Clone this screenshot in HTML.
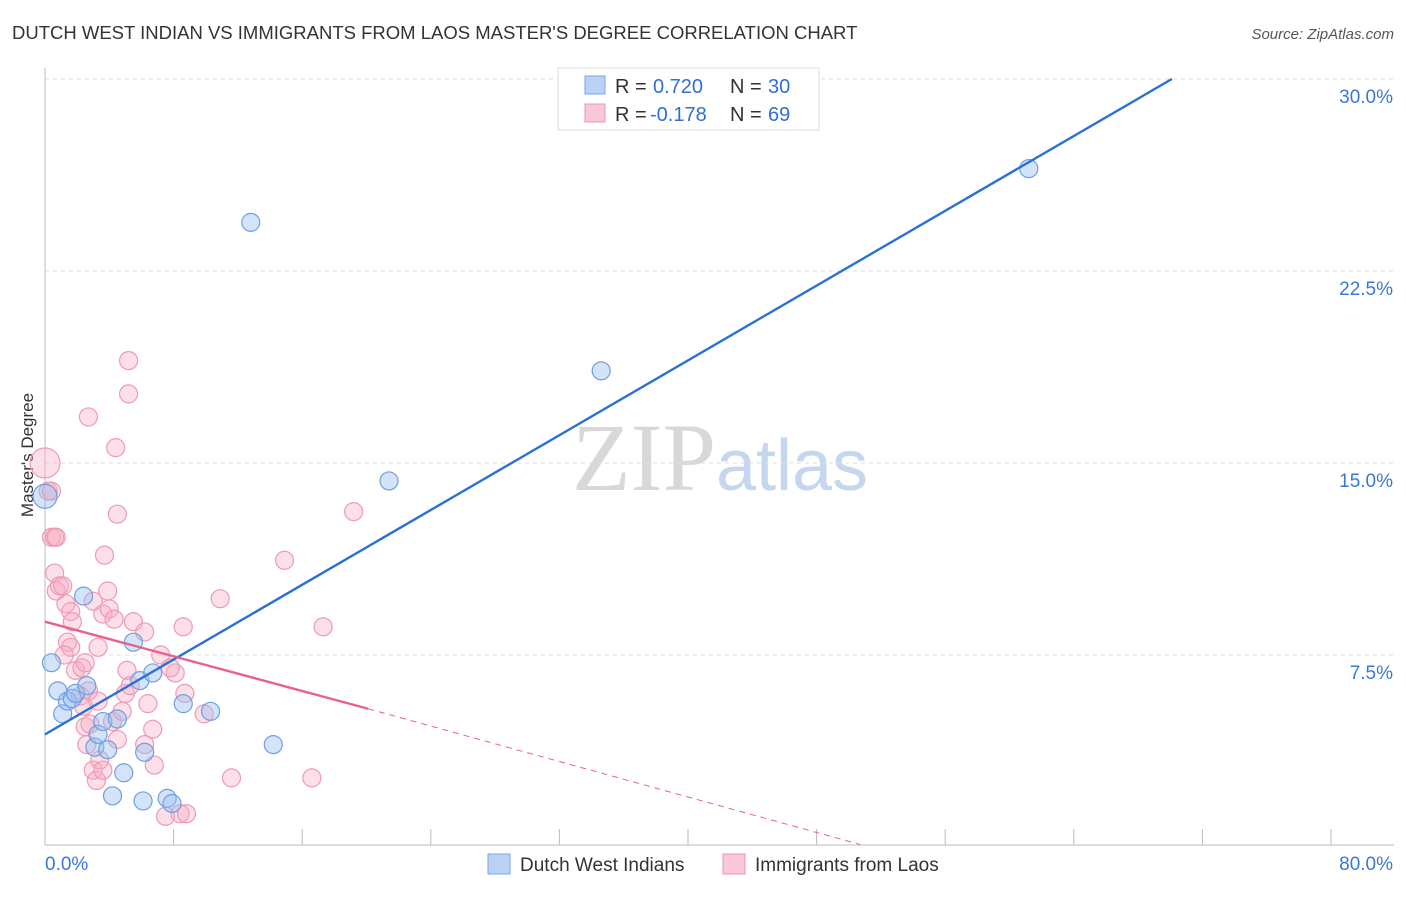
<!DOCTYPE html>
<html><head><meta charset="utf-8"><style>
body{margin:0;background:#fff;font-family:"Liberation Sans",sans-serif;}
svg text{font-family:"Liberation Sans",sans-serif;}
</style></head><body>
<svg id="chart" width="1406" height="892" xmlns="http://www.w3.org/2000/svg">
<text x="12" y="39" font-size="18.5" fill="#333">DUTCH WEST INDIAN VS IMMIGRANTS FROM LAOS MASTER'S DEGREE CORRELATION CHART</text>
<text x="1394" y="39" font-size="15" fill="#555" text-anchor="end" font-style="italic">Source: ZipAtlas.com</text>
<text transform="translate(33,455) rotate(-90)" font-size="17" fill="#333" text-anchor="middle">Master's Degree</text>
<text x="720" y="490" font-size="96" text-anchor="middle"><tspan fill="#d8d8d8" font-family="Liberation Serif">ZIP</tspan><tspan fill="#c5d7ef" font-size="72">atlas</tspan></text>
<g id="grid"></g><g id="axes"></g><g id="pink"></g><g id="blue"></g><g id="lines"></g>
<g>
<rect x="558" y="68" width="261" height="62" fill="#fff" stroke="#ddd"/>
<rect x="585" y="76" width="20" height="18" fill="#b9d2f5" stroke="#7aa6e0"/>
<rect x="585" y="104" width="20" height="18" fill="#f9c8d6" stroke="#ec93ad"/>
<text x="615" y="93" font-size="20" fill="#333">R =</text>
<text x="653" y="93" font-size="20" fill="#2f6fd6">0.720</text>
<text x="730" y="93" font-size="20" fill="#333">N =</text>
<text x="768" y="93" font-size="20" fill="#2f6fd6">30</text>
<text x="615" y="121" font-size="20" fill="#333">R =</text>
<text x="650" y="121" font-size="20" fill="#2f6fd6">-0.178</text>
<text x="730" y="121" font-size="20" fill="#333">N =</text>
<text x="768" y="121" font-size="20" fill="#2f6fd6">69</text>
</g>
<g>
<rect x="488" y="854" width="22" height="20" fill="#b9d2f5" stroke="#7aa6e0"/>
<text x="520" y="871" font-size="19" fill="#333">Dutch West Indians</text>
<rect x="723" y="854" width="22" height="20" fill="#f9c8d6" stroke="#ec93ad"/>
<text x="755" y="871" font-size="19" fill="#333">Immigrants from Laos</text>
</g>
</svg>
<script>
const NS="http://www.w3.org/2000/svg";
const xTicks=[0,8,16,24,32,40,48,56,64,72,80];
const yTicks=[7.5,15,22.5,30];
const yTickLabels=["7.5%","15.0%","22.5%","30.0%"];
const blueX=[12.8,61.2,34.6,21.4,0,0.4,0.8,1.1,1.4,1.7,1.9,2.4,2.6,3.1,3.3,3.6,3.9,4.5,4.9,4.2,5.5,5.9,6.2,6.7,6.1,7.6,7.9,8.6,10.3,14.2];
const blueY=[24.4,26.5,18.6,14.3,13.7,7.2,6.1,5.2,5.7,5.8,6.0,9.8,6.3,3.9,4.4,4.9,3.8,5.0,2.9,2.0,8.0,6.5,3.7,6.8,1.8,1.9,1.7,5.6,5.3,4.0];
const blueR=[9,9,9,9,12,9,9,9,9,9,9,9,9,9,9,9,9,9,9,9,9,9,9,9,9,9,9,9,9,9];
const pinkX=[0,0.2,0.4,0.6,0.7,0.9,1.1,1.3,1.4,1.6,1.7,1.6,1.2,1.9,2.2,2.3,2.5,2.7,2.4,2.5,2.8,2.6,3.0,3.2,3.4,3.6,3.3,3.3,3.6,3.9,4.0,4.3,4.5,4.4,2.7,5.2,5.2,3.7,5.0,5.1,5.3,5.5,6.2,6.4,6.7,6.2,6.8,7.2,7.5,8.1,8.4,8.7,8.8,8.6,9.9,10.9,11.6,14.9,16.6,17.3,19.2,0.6,4.2,4.8,4.5,7.8,3.0,0.4,0.7];
const pinkY=[15.0,13.9,12.1,10.7,10.0,10.2,10.2,9.5,8.0,9.2,8.8,7.8,7.5,6.9,5.9,7.0,7.2,6.1,5.5,4.7,4.8,4.0,3.0,2.6,3.4,3.0,7.8,5.7,9.1,10.0,9.3,8.9,13.0,15.6,16.8,19.0,17.7,11.4,6.0,6.9,6.3,8.8,8.4,5.6,4.6,4.0,3.2,7.5,1.2,6.8,1.3,6.0,1.3,8.6,5.2,9.7,2.7,11.2,2.7,8.6,13.1,12.1,4.9,5.3,4.2,7.0,9.6,13.9,12.1];
const blueFit=[[0,4.4],[70.1,30]];
const pinkFit=[[0,8.8],[20.1,5.4]];
const pinkExt=[[20.1,5.4],[50.7,0.1]];
const X=v=>45+v*16.075, Y=v=>847-v*25.6;
function mk(tag,parent,attrs){const e=document.createElementNS(NS,tag);for(const k in attrs)e.setAttribute(k,attrs[k]);document.getElementById(parent).appendChild(e);return e;}
yTicks.forEach((t,i)=>{
 const g=mk('line','grid',{x1:45,x2:1394,y1:Y(t),y2:Y(t),stroke:'#ddd','stroke-dasharray':'4,4'});
 
 
 const l=mk('text','axes',{x:1393,y:Y(t)+24,'font-size':19,fill:'#3a78d8','text-anchor':'end'});
 l.textContent=yTickLabels[i];
 
 
});
const ax=mk('line','axes',{x1:45,x2:45,y1:68,y2:845,stroke:'#bbb'});


const bx=mk('line','axes',{x1:45,x2:1394,y1:845,y2:845,stroke:'#bbb'});


xTicks.forEach(t=>{const tk=mk('line','axes',{x1:X(t),x2:X(t),y1:829,y2:845,stroke:'#bbb'});
 
 });
[[0,"0.0%",'start',45],[80,"80.0%",'end',1393]].forEach(a=>{const t=mk('text','axes',{x:a[3],y:870,'font-size':19,fill:'#3a78d8','text-anchor':a[2]});t.textContent=a[1];
 
 });
pinkX.forEach((v,i)=>{const c=mk('circle','pink',{cx:X(v),cy:Y(pinkY[i]),r:i==0?15:9,fill:'rgba(246,170,195,0.38)',stroke:'#ee9ab4','stroke-width':1.2});
 
 });
blueX.forEach((v,i)=>{const c=mk('circle','blue',{cx:X(v),cy:Y(blueY[i]),r:blueR[i],fill:'rgba(150,190,240,0.42)',stroke:'#6f9fe0','stroke-width':1.2});
 
 });
const bl=mk('line','lines',{x1:X(blueFit[0][0]),y1:Y(blueFit[0][1]),x2:X(blueFit[1][0]),y2:Y(blueFit[1][1]),stroke:'#2a70d8','stroke-width':2.4});


const pl=mk('line','lines',{x1:X(pinkFit[0][0]),y1:Y(pinkFit[0][1]),x2:X(pinkFit[1][0]),y2:Y(pinkFit[1][1]),stroke:'#e8608c','stroke-width':2.4});


const pe=mk('line','lines',{x1:X(pinkExt[0][0]),y1:Y(pinkExt[0][1]),x2:X(pinkExt[1][0]),y2:Y(pinkExt[1][1]),stroke:'#e8608c','stroke-width':1,'stroke-dasharray':'6,5'});


</script>
</body></html>
